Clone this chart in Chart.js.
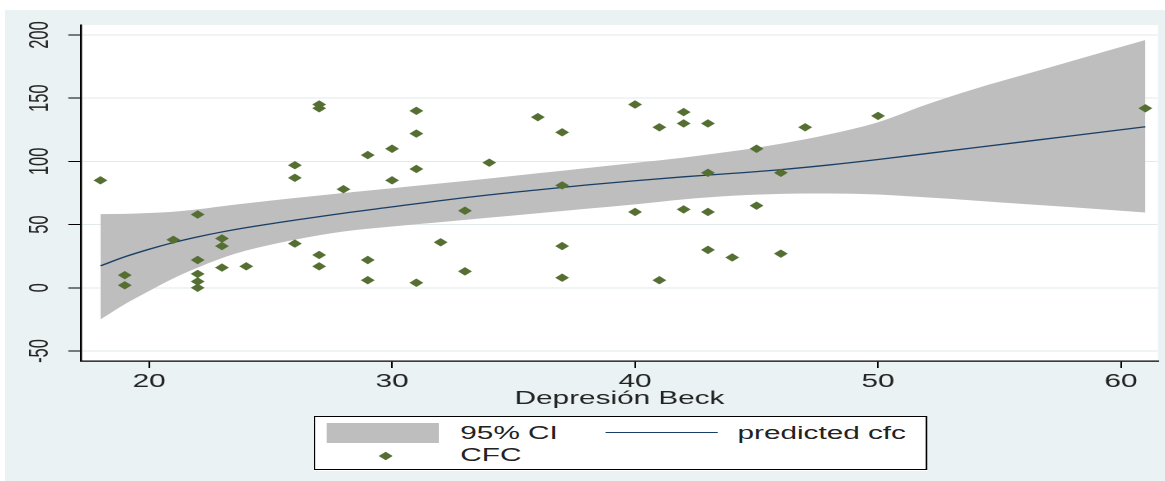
<!DOCTYPE html>
<html>
<head>
<meta charset="utf-8">
<script src="https://cdn.jsdelivr.net/npm/chart.js@4/dist/chart.umd.min.js"></script>
<style>
  body { margin: 0; background: #fff; width: 1165px; height: 481px; overflow: hidden; position: relative; font-family: "Liberation Sans", Arial, sans-serif; }
  #panel { position: absolute; left: 5px; top: 10px; right: 0; bottom: 0; background: #eaf2f3; }
  /* the original graph is stretched sideways, so draw narrow and stretch */
  #wrap { position: absolute; left: 0; top: 0; width: 706px; height: 481px; transform: scale(1.65, 1); transform-origin: 0 0; }
  #chart { position: absolute; left: 0; top: 0; }
  #legend { position: absolute; left: 190px; top: 416px; width: 372px; height: 54px; border: 1px solid #000; background: #fff; box-sizing: border-box; }
  #legend div { position: absolute; }
  #legend .txt { font-size: 18px; line-height: 22px; color: #222; white-space: nowrap; }
</style>
</head>
<body>
<div id="panel"></div>
<div id="wrap">
  <canvas id="chart" width="706" height="481"></canvas>
  <div id="legend"></div>
</div>
<script>
const xTicks = [20, 30, 40, 50, 60];
const yTicks = [-50, 0, 50, 100, 150, 200];
const xTitle = 'Depresión Beck';
const seriesNames = ['95% CI', 'predicted cfc', 'CFC'];

// observed points
const beckX = [18, 19, 19, 21, 22, 22, 22, 22, 22, 23, 23, 23, 24, 26, 26, 26, 27, 27, 27, 27, 28,
  29, 29, 29, 30, 30, 31, 31, 31, 31, 32, 33, 33, 34, 36, 37, 37, 37, 37, 40, 40, 41, 41,
  42, 42, 42, 43, 43, 43, 43, 44, 45, 45, 46, 46, 47, 50, 61];
const cfcY = [85, 10, 2, 38, 58, 22, 11, 5, 0, 39, 33, 16, 17, 97, 87, 35, 145, 142, 26, 17, 78,
  105, 22, 6, 110, 85, 140, 122, 94, 4, 36, 61, 13, 99, 135, 123, 81, 33, 8, 145, 60, 127, 6,
  139, 130, 62, 130, 91, 60, 30, 24, 110, 65, 91, 27, 127, 136, 142];

// fitted curve and band
const fitX = [18, 19, 20, 21, 22, 23, 24, 26, 28, 30, 32, 34, 36, 38, 40, 42, 44, 46, 48, 50, 52, 54, 56, 58, 61];
const fitY = [17.4, 24.5, 30.5, 35.8, 40.3, 44.2, 47.6, 53.5, 59, 64, 69, 73.5, 77.5, 81.3, 84.7, 87.8, 90.5, 93.5, 97.2, 101.5, 106.2, 110.9, 115.6, 120.3, 127.4];
const ciHigh = [58.3, 58.5, 59.2, 60.2, 62, 64.5, 66.8, 71, 75, 78.8, 82.6, 86.5, 90.6, 94.7, 98.8, 103, 108, 114, 121.5, 131, 145, 157.5, 168.5, 179.5, 196];
const ciLow = [-25, -13, -2.5, 7.5, 16, 23.5, 29.5, 38, 44.5, 48.5, 52, 55.5, 59, 62.5, 66, 70, 72.8, 74.3, 74.6, 73.8, 71.5, 69, 66.3, 63.7, 59.6];

const font = '"Liberation Sans", Arial, sans-serif';
const green = '#556f33';
const navy = '#1a3f66';
const band = '#bebebe';

function pairs(xs, ys) {
  return xs.map((x, i) => ({ x: x, y: ys[i] }));
}

const plotBg = {
  id: 'plotBg',
  beforeDraw(c) {
    const a = c.chartArea;
    c.ctx.save();
    c.ctx.fillStyle = '#fff';
    c.ctx.fillRect(a.left, a.top, a.right - a.left, a.bottom - a.top);
    c.ctx.restore();
  }
};

new Chart(document.getElementById('chart'), {
  type: 'scatter',
  data: {
    datasets: [
      {
        label: seriesNames[2],
        data: pairs(beckX, cfcY),
        pointStyle: 'rectRot',
        pointRadius: 4.2,
        backgroundColor: green,
        borderWidth: 0,
        order: 0
      },
      {
        type: 'line',
        label: seriesNames[1],
        data: pairs(fitX, fitY),
        showLine: true,
        borderColor: navy,
        borderWidth: 1.3,
        pointRadius: 0,
        fill: false,
        cubicInterpolationMode: 'monotone',
        order: 1
      },
      {
        type: 'line',
        label: seriesNames[0],
        data: pairs(fitX, ciHigh),
        showLine: true,
        borderColor: 'rgba(0,0,0,0)',
        borderWidth: 0,
        pointRadius: 0,
        backgroundColor: band,
        fill: '+1',
        cubicInterpolationMode: 'monotone',
        order: 2
      },
      {
        type: 'line',
        label: 'lower',
        data: pairs(fitX, ciLow),
        showLine: true,
        borderColor: 'rgba(0,0,0,0)',
        borderWidth: 0,
        pointRadius: 0,
        fill: false,
        cubicInterpolationMode: 'monotone',
        order: 3
      }
    ]
  },
  options: {
    responsive: false,
    animation: false,
    devicePixelRatio: 2,
    layout: { padding: { top: 25, right: 4.2, bottom: 0, left: 0 } },
    plugins: { legend: { display: false }, tooltip: { enabled: false } },
    scales: {
      x: {
        type: 'linear',
        min: 17.2,
        max: 61.52,
        afterBuildTicks: s => { s.ticks = xTicks.map(v => ({ value: v })); },
        afterFit: s => { s.height = 120; },
        ticks: { font: { family: font, size: 18 }, color: '#222', padding: 3, maxRotation: 0 },
        grid: { drawOnChartArea: false, tickLength: 7, tickColor: '#000' },
        border: { color: '#000', width: 1.2 },
        title: { display: true, text: xTitle, color: '#222', font: { family: font, size: 18 }, padding: { top: 0, bottom: 71 } }
      },
      y: {
        min: -57.9,
        max: 207.9,
        afterBuildTicks: s => { s.ticks = yTicks.map(v => ({ value: v })); },
        afterFit: s => { s.width = 49.1; },
        ticks: { font: { family: font, size: 16.5 }, color: '#222', minRotation: 90, maxRotation: 90, crossAlign: 'center', padding: 3 },
        grid: { color: '#e3eaec', tickColor: '#000', tickLength: 7.7 },
        border: { color: '#000', width: 1.2 }
      }
    }
  },
  plugins: [plotBg]
});

// legend box, laid out like the original two-column key
const legend = document.getElementById('legend');
legend.innerHTML =
  '<div style="left:7px;top:6px;width:68px;height:20px;background:' + band + '"></div>' +
  '<div class="txt" style="left:88px;top:5px">' + seriesNames[0] + '</div>' +
  '<div style="left:176px;top:15px;width:68px;height:1.4px;background:' + navy + '"></div>' +
  '<div class="txt" style="left:256px;top:5px">' + seriesNames[1] + '</div>' +
  '<div style="left:39.5px;top:35.5px;width:5.5px;height:5.5px;transform:rotate(45deg);background:' + green + '"></div>' +
  '<div class="txt" style="left:88px;top:27px">' + seriesNames[2] + '</div>';
</script>
</body>
</html>
